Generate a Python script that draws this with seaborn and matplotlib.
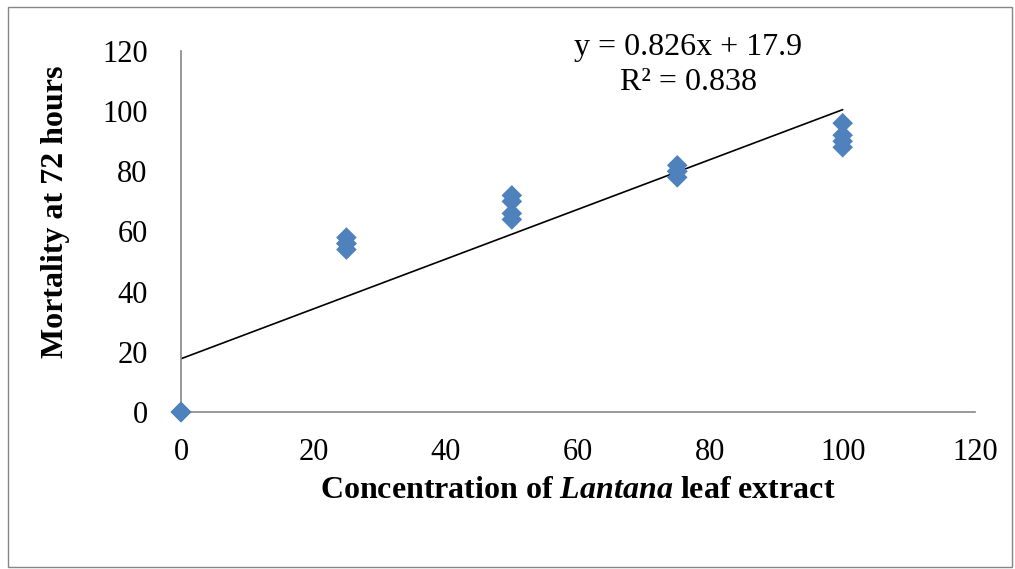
import matplotlib
matplotlib.use("Agg")
import matplotlib.pyplot as plt
import seaborn as sns
import pandas as pd
from matplotlib.patches import Rectangle

# Data
concentration = [0, 0, 0, 0,
                 25, 25, 25, 25,
                 50, 50, 50, 50,
                 75, 75, 75, 75,
                 100, 100, 100, 100]
mortality = [0, 0, 0, 0,
             58, 56, 56, 54,
             72, 70, 66, 64,
             82, 80, 80, 78,
             96, 92, 90, 88]
equation_text = "y = 0.826x + 17.9"
r2_text = "R² = 0.838"
x_ticks = [0, 20, 40, 60, 80, 100, 120]
y_ticks = [0, 20, 40, 60, 80, 100, 120]

df = pd.DataFrame({"conc": concentration, "mort": mortality})

sns.set_style("white")
plt.rcParams["font.family"] = ["Liberation Serif", "DejaVu Serif"]
plt.rcParams["text.color"] = "black"
plt.rcParams["axes.labelcolor"] = "black"
plt.rcParams["mathtext.fontset"] = "custom"
plt.rcParams["mathtext.rm"] = "Liberation Serif:bold"
plt.rcParams["mathtext.it"] = "Liberation Serif:bold:italic"

fig = plt.figure(figsize=(10.15, 5.69), dpi=100)
ax = fig.add_axes([181 / 1015, 1 - 412 / 569, (975 - 181) / 1015, (412 - 51) / 569])

sns.regplot(data=df, x="conc", y="mort", ax=ax, ci=None, truncate=True,
            marker="D",
            scatter_kws=dict(s=110, color="#4F81BD", alpha=1, edgecolors="none",
                             zorder=3, clip_on=False),
            line_kws=dict(color="black", lw=1.2, zorder=2))

ax.set_xlim(0, 120)
ax.set_ylim(0, 120)
ax.set_xticks(x_ticks)
ax.set_yticks(y_ticks)
ax.tick_params(axis="both", direction="out", length=7, width=1, color="#868686",
               labelsize=22, labelcolor="black")
ax.tick_params(axis="x", pad=12)
ax.tick_params(axis="y", pad=17)

for side in ["top", "right"]:
    ax.spines[side].set_visible(False)
for side in ["left", "bottom"]:
    ax.spines[side].set_color("#868686")
    ax.spines[side].set_linewidth(1.2)

ax.set_xlabel(r"Concentration of $\mathit{Lantana}$ leaf extract",
              fontsize=23, fontweight="bold", color="black")
ax.set_ylabel("Mortality at 72 hours", fontsize=23, fontweight="bold", color="black")
ax.xaxis.set_label_coords((578 - 181) / (975 - 181), (412 - 476) / (412 - 51))
ax.yaxis.set_label_coords((70 - 181) / (975 - 181), (412 - 212) / (412 - 51))

fig.text(688 / 1015, 1 - 47 / 569, equation_text, ha="center", va="center",
         fontsize=23, color="black")
fig.text(688 / 1015, 1 - 83 / 569, r2_text, ha="center", va="center",
         fontsize=23, color="black")

fig.patches.append(Rectangle((8 / 1015, 1 - 567 / 569), (1012 - 8) / 1015, (567 - 7) / 569,
                             transform=fig.transFigure, fill=False,
                             edgecolor="#868686", lw=1.0))

fig.savefig("out.png", dpi=100)
